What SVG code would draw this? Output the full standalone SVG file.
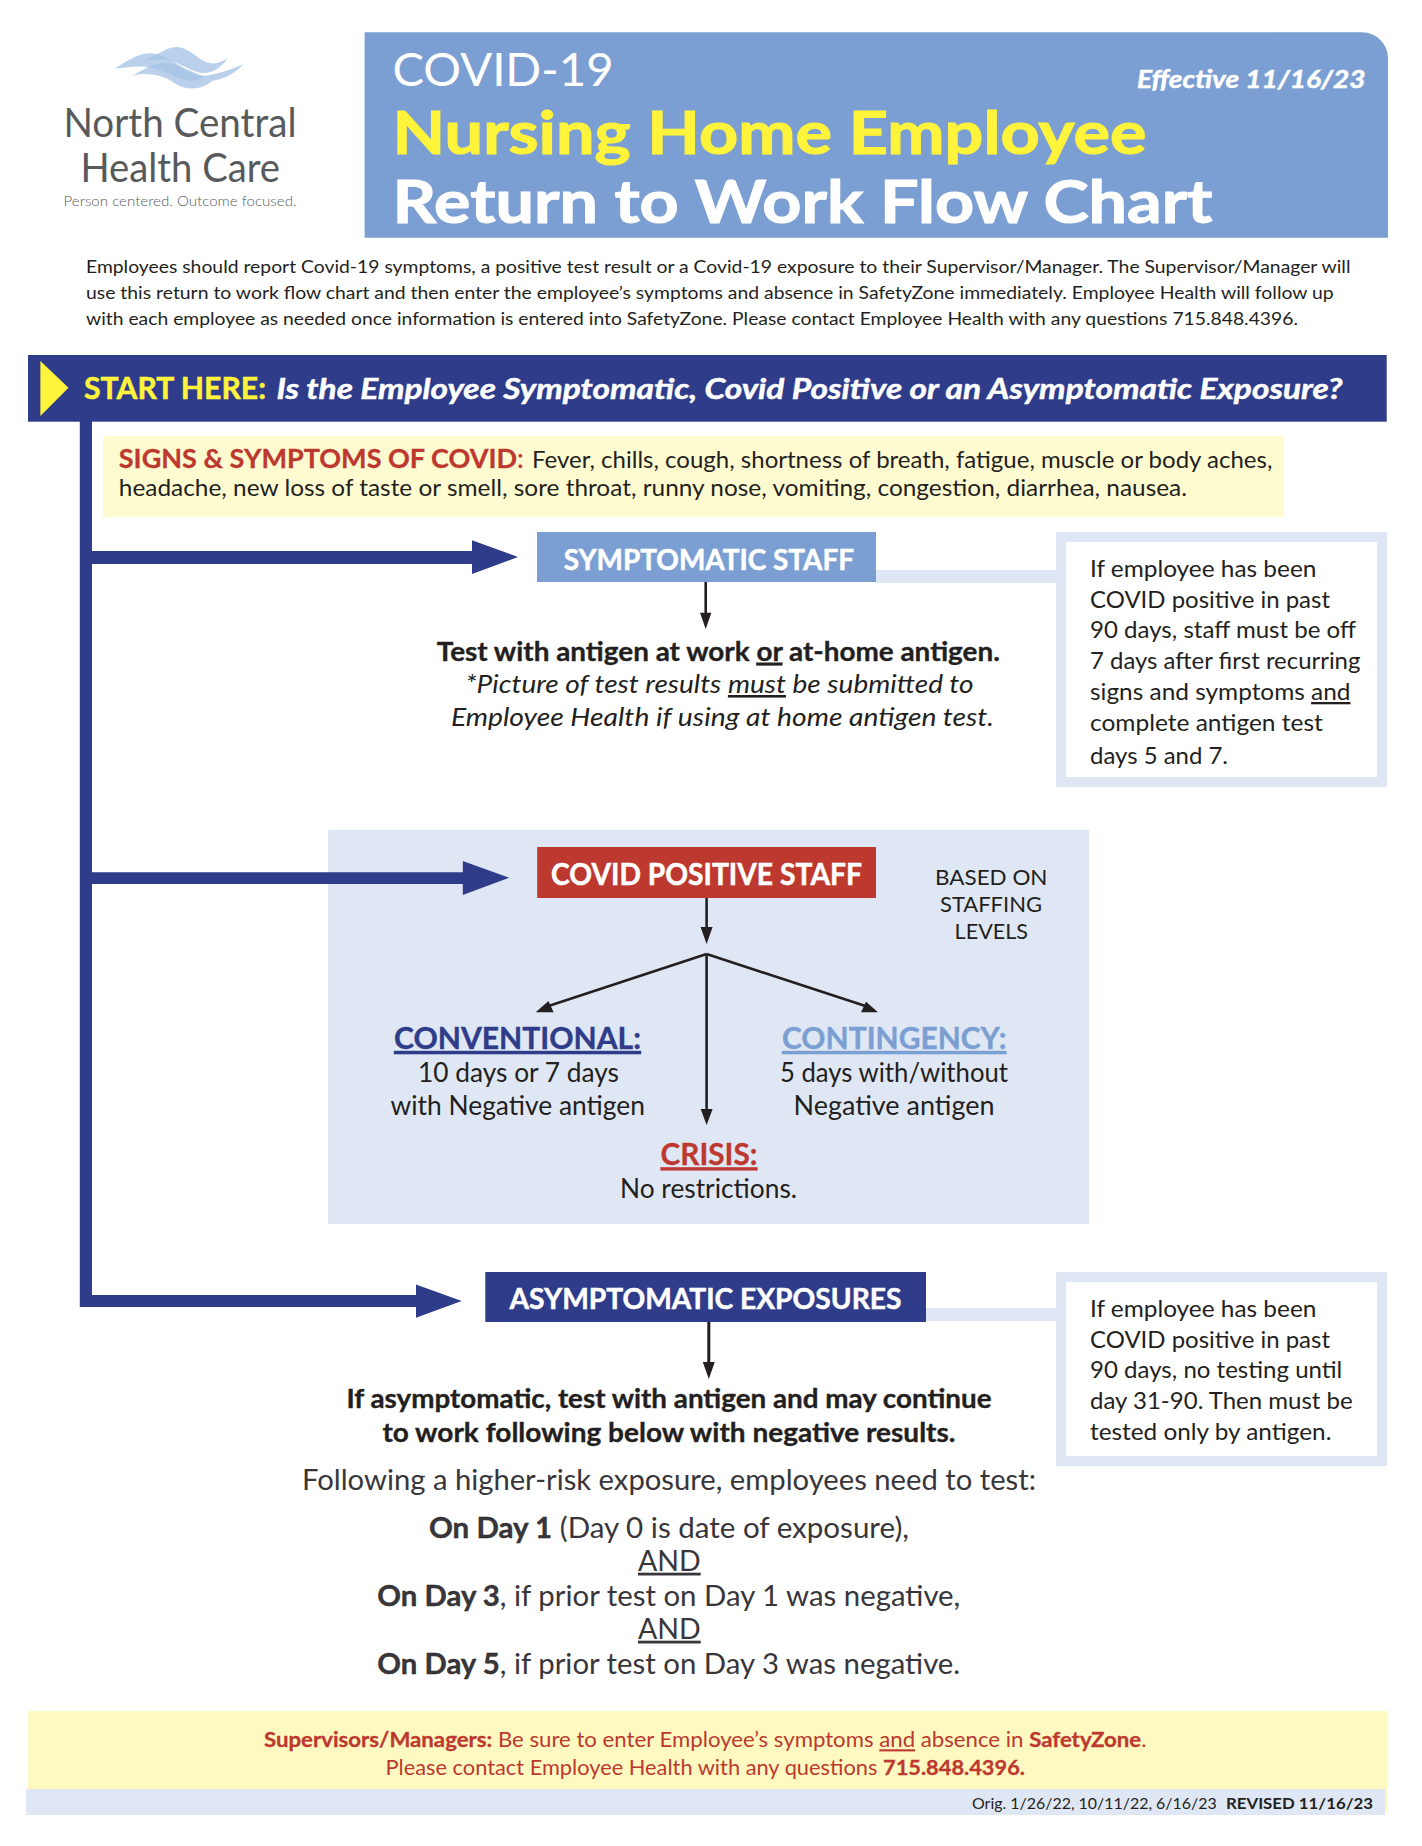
<svg xmlns="http://www.w3.org/2000/svg" width="1422" height="1846" viewBox="0 0 1422 1846">
<style>
text{font-family:"Lato","Noto Sans","Liberation Sans",sans-serif;fill:#231f20;font-size:23px}
.b{font-weight:700}
.i{font-style:italic}
.w{fill:#fff}
.y{fill:#fff33b}
.r{fill:#bd382f}
.u{text-decoration:underline}
.t{font-size:26px}
.l{font-size:28px}
.lt{fill:#38363a}
.lg{fill:#58595b}
.navy{fill:#2e3c8a}
.red{fill:#bd382f}
.sky{fill:#7b9fd2}
.pale{fill:#e0e7f4}
.w.b{stroke:#fff;stroke-width:.5}
.y.b{stroke:#fff33b;stroke-width:.5}
.hv.w.b{stroke-width:1.1}
.hv.y.b{stroke-width:1.1}
.t.b,.l .b,text>.b{stroke:#231f20;stroke-width:.35}
.r .b,.r.b{stroke:#bd382f;stroke-width:.3}
.navy.b{stroke:#2e3c8a;stroke-width:.4}
.sky.b{stroke:#7b9fd2;stroke-width:.4}
.wave{fill:#a4c1e4;fill-opacity:.75}
.th{stroke:#231f20;stroke-width:2.6;fill:none}
.hd{fill:#231f20}
.nar{font-family:"Liberation Sans Narrow","Lato",sans-serif;font-size:40px}
</style>
<rect width="1422" height="1846" fill="#fff"/>
<g id="logo">
<g transform="translate(105 40) scale(.3333)">
<path class="wave" d="M30,85C70,62 100,38 140,40C178,44 210,72 250,90C270,98 290,108 300,108C270,130 230,122 200,106C172,92 150,84 120,80C90,77 60,83 30,85Z"/>
<path class="wave" d="M120,62C150,50 190,15 225,22C262,30 280,65 320,70C340,72 358,62 368,55C345,88 315,104 285,98C250,90 225,70 190,60C165,54 140,60 120,62Z"/>
<path class="wave" d="M80,108C110,92 150,62 195,70C240,80 260,116 310,106C350,98 390,85 415,72C390,102 355,118 322,122C290,152 235,152 205,127C175,105 120,95 80,108Z"/>
</g>
<text class="lg nar" x="63.5" y="136.7" style="font-size:40px" textLength="233" lengthAdjust="spacingAndGlyphs">North Central</text>
<text class="lg nar" x="80.5" y="181.7" style="font-size:40px" textLength="199.5" lengthAdjust="spacingAndGlyphs">Health Care</text>
<text class="lg" x="63.5" y="205.7" style="font-size:14.5px;font-weight:300" textLength="233" lengthAdjust="spacingAndGlyphs">Person centered. Outcome focused.</text>
</g>
<g id="title">
<path class="sky" d="M364.6 32.3H1362a26 26 0 0 1 26 26V237.7H364.6Z"/>
<text class="w" x="392.5" y="86" style="font-size:47px" textLength="221" lengthAdjust="spacingAndGlyphs">COVID-19</text>
<text class="w b i" x="1137" y="87.7" style="font-size:24.5px" textLength="228.4" lengthAdjust="spacingAndGlyphs">Effective 11/16/23</text>
<text class="y b hv" x="392.5" y="154.3" style="font-size:60px" textLength="754" lengthAdjust="spacingAndGlyphs">Nursing Home Employee</text>
<text class="w b hv" x="392.5" y="222.7" style="font-size:60px" textLength="820" lengthAdjust="spacingAndGlyphs">Return to Work Flow Chart</text>
</g>
<g id="intro">
<text x="86" y="273.3" style="font-size:17.5px" textLength="1264.5" lengthAdjust="spacingAndGlyphs">Employees should report Covid-19 symptoms, a positive test result or a Covid-19 exposure to their Supervisor/Manager. The Supervisor/Manager will</text>
<text x="86" y="299.3" style="font-size:17.5px" textLength="1247.7" lengthAdjust="spacingAndGlyphs">use this return to work flow chart and then enter the employee’s symptoms and absence in SafetyZone immediately. Employee Health will follow up</text>
<text x="86" y="325.3" style="font-size:17.5px" textLength="1212" lengthAdjust="spacingAndGlyphs">with each employee as needed once information is entered into SafetyZone. Please contact Employee Health with any questions 715.848.4396.</text>
</g>
<g id="covid-panel"><rect class="pale" x="328" y="830" width="761" height="394"/></g>
<g id="connectors">
<path class="navy" d="M79.8 421H92V551H472V540.3L518 557L472 574V564H92V872.3H462.8V861L509.2 877.7L462.8 895V884H92V1294.9H416V1284.5L461.7 1301L416 1317.7V1306.9H79.8Z"/>
<rect class="pale" x="876" y="570" width="180" height="13"/>
<rect class="pale" x="926" y="1308" width="130" height="13"/>
<path class="th" d="M705.7 582V614"/><path class="hd" d="M705.7 629L700 612.7H711.4Z"/>
<path class="th" d="M706.6 898V930"/><path class="hd" d="M706.6 944L700.6 927H712.6Z"/>
<path class="th" d="M706.6 954V1112"/><path class="hd" d="M706.6 1125L700.6 1109H712.6Z"/>
<path class="th" d="M706.6 954L544 1007.5"/><path class="hd" d="M535.7 1012.3H553.6L548.5 1001Z"/>
<path class="th" d="M706.6 954L870 1007.5"/><path class="hd" d="M878 1012.3H861L866 1001.7Z"/>
<path class="th" d="M708.8 1322V1366" style="stroke-width:3"/><path class="hd" d="M708.8 1379L702.8 1362H714.8Z"/>
</g>
<g id="start">
<rect class="navy" x="28" y="355" width="1358.7" height="66.7"/>
<path class="y" d="M40.4 361L68.5 387.7L40.4 416Z"/>
<text class="y b" x="84" y="399" style="font-size:30px" textLength="182" lengthAdjust="spacingAndGlyphs">START HERE:</text>
<text class="w b i" x="276.5" y="399" style="font-size:29px" textLength="1066" lengthAdjust="spacingAndGlyphs">Is the Employee Symptomatic, Covid Positive or an Asymptomatic Exposure?</text>
</g>
<g id="signs">
<rect x="103" y="436" width="1181" height="81" fill="#fffbd1"/>
<text class="r b" x="118.8" y="468.3" style="font-size:26px" textLength="405" lengthAdjust="spacingAndGlyphs">SIGNS &amp; SYMPTOMS OF COVID<tspan font-weight="400">:</tspan></text>
<text x="532" y="467.7" style="font-size:24px" textLength="740.4" lengthAdjust="spacingAndGlyphs">Fever, chills, cough, shortness of breath, fatigue, muscle or body aches,</text>
<text x="118.8" y="496" style="font-size:24px" textLength="1068.2" lengthAdjust="spacingAndGlyphs">headache, new loss of taste or smell, sore throat, runny nose, vomiting, congestion, diarrhea, nausea.</text>
</g>
<g id="symptomatic">
<rect class="sky" x="537" y="532" width="339" height="50"/>
<text class="w b" x="563.7" y="569.5" style="font-size:28.5px" textLength="290.3" lengthAdjust="spacingAndGlyphs">SYMPTOMATIC STAFF</text>
</g>
<g id="symptomatic-text">
<text class="t b" x="436.8" y="660.8" textLength="563" lengthAdjust="spacingAndGlyphs">Test with antigen at work <tspan class="u">or</tspan> at-home antigen.</text>
<text class="t i" x="465.5" y="693" textLength="508" lengthAdjust="spacingAndGlyphs">*Picture of test results <tspan class="u">must</tspan> be submitted to</text>
<text class="t i" x="451" y="725.7" textLength="543" lengthAdjust="spacingAndGlyphs">Employee Health if using at home antigen test.</text>
</g>
<g id="note1">
<rect x="1061" y="537" width="321" height="245" fill="#fff" stroke="#e0e7f4" stroke-width="10"/>
<text x="1090" y="576.7" textLength="226.4" lengthAdjust="spacingAndGlyphs">If employee has been</text>
<text x="1090" y="608.3" textLength="240" lengthAdjust="spacingAndGlyphs">COVID positive in past</text>
<text x="1090" y="638.3" textLength="266" lengthAdjust="spacingAndGlyphs">90 days, staff must be off</text>
<text x="1090" y="669.3" textLength="270.4" lengthAdjust="spacingAndGlyphs">7 days after first recurring</text>
<text x="1090" y="700" textLength="260.5" lengthAdjust="spacingAndGlyphs">signs and symptoms <tspan class="u">and</tspan></text>
<text x="1090" y="730.7" textLength="232.8" lengthAdjust="spacingAndGlyphs">complete antigen test</text>
<text x="1090" y="764" textLength="138" lengthAdjust="spacingAndGlyphs">days 5 and 7.</text>
</g>
<g id="covid-positive">
<rect class="red" x="537.2" y="847" width="338.8" height="51"/>
<text class="w b" x="551" y="885" style="font-size:30px" textLength="311" lengthAdjust="spacingAndGlyphs">COVID POSITIVE STAFF</text>
</g>
<g id="staffing">
<text x="935" y="885" style="font-size:22px" textLength="112.5" lengthAdjust="spacingAndGlyphs">BASED ON</text>
<text x="940" y="911.7" style="font-size:22px" textLength="102" lengthAdjust="spacingAndGlyphs">STAFFING</text>
<text x="954.6" y="938.7" style="font-size:22px" textLength="73.4" lengthAdjust="spacingAndGlyphs">LEVELS</text>
</g>
<g id="conventional">
<text class="navy b u" x="394" y="1049" style="font-size:30.5px" textLength="247" lengthAdjust="spacingAndGlyphs">CONVENTIONAL:</text>
<text x="418" y="1081.5" style="font-size:26px" textLength="201" lengthAdjust="spacingAndGlyphs">10 days or 7 days</text>
<text x="390.5" y="1115" style="font-size:26px" textLength="254.5" lengthAdjust="spacingAndGlyphs">with Negative antigen</text>
</g>
<g id="contingency">
<text class="sky b u" x="782" y="1049" style="font-size:30.5px" textLength="224.5" lengthAdjust="spacingAndGlyphs">CONTINGENCY:</text>
<text x="780" y="1081.5" style="font-size:26px" textLength="228" lengthAdjust="spacingAndGlyphs">5 days with/without</text>
<text x="793.5" y="1115" style="font-size:26px" textLength="201" lengthAdjust="spacingAndGlyphs">Negative antigen</text>
</g>
<g id="crisis">
<text class="r b u" x="660.5" y="1165.3" style="font-size:30.5px" textLength="97" lengthAdjust="spacingAndGlyphs">CRISIS:</text>
<text x="620" y="1197.5" style="font-size:26px" textLength="177" lengthAdjust="spacingAndGlyphs">No restrictions.</text>
</g>
<g id="asymptomatic">
<rect class="navy" x="485.3" y="1272" width="440.7" height="50"/>
<text class="w b" x="509.4" y="1309.4" style="font-size:28.5px" textLength="392" lengthAdjust="spacingAndGlyphs">ASYMPTOMATIC EXPOSURES</text>
</g>
<g id="note2">
<rect x="1061" y="1277" width="321" height="184" fill="#fff" stroke="#e0e7f4" stroke-width="10"/>
<text x="1090" y="1317.3" textLength="226.4" lengthAdjust="spacingAndGlyphs">If employee has been</text>
<text x="1090" y="1348.2" textLength="240" lengthAdjust="spacingAndGlyphs">COVID positive in past</text>
<text x="1090" y="1378.4" textLength="252.3" lengthAdjust="spacingAndGlyphs">90 days, no testing until</text>
<text x="1090" y="1409" textLength="262.7" lengthAdjust="spacingAndGlyphs">day 31-90. Then must be</text>
<text x="1090" y="1440" textLength="241.4" lengthAdjust="spacingAndGlyphs">tested only by antigen.</text>
</g>
<g id="exposure-text">
<text class="t b" x="346.5" y="1408" textLength="645" lengthAdjust="spacingAndGlyphs">If asymptomatic, test with antigen and may continue</text>
<text class="t b" x="382.5" y="1441.7" textLength="573" lengthAdjust="spacingAndGlyphs">to work following below with negative results.</text>
<text class="l lt" x="302" y="1490.3" textLength="734" lengthAdjust="spacingAndGlyphs">Following a higher-risk exposure, employees need to test:</text>
<text class="l lt" x="429" y="1538" textLength="480" lengthAdjust="spacingAndGlyphs"><tspan class="b">On Day 1</tspan> (Day 0 is date of exposure),</text>
<text class="l u lt" x="638" y="1570.7" textLength="62.7" lengthAdjust="spacingAndGlyphs">AND</text>
<text class="l lt" x="377.3" y="1606" textLength="583" lengthAdjust="spacingAndGlyphs"><tspan class="b">On Day 3</tspan>, if prior test on Day 1 was negative,</text>
<text class="l u lt" x="638" y="1638.7" textLength="62.7" lengthAdjust="spacingAndGlyphs">AND</text>
<text class="l lt" x="377.3" y="1674" textLength="583" lengthAdjust="spacingAndGlyphs"><tspan class="b">On Day 5</tspan>, if prior test on Day 3 was negative.</text>
</g>
<g id="footer">
<rect x="28" y="1711" width="1359.6" height="101" fill="#fdf9c0"/>
<rect class="pale" x="25.9" y="1789" width="1359.1" height="26"/>
<text class="r" x="264" y="1747.3" style="font-size:21px" textLength="882.4" lengthAdjust="spacingAndGlyphs"><tspan class="b">Supervisors/Managers:</tspan> Be sure to enter Employee’s symptoms <tspan class="u">and</tspan> absence in <tspan class="b">SafetyZone</tspan>.</text>
<text class="r" x="385.5" y="1775.4" style="font-size:21px" textLength="639.5" lengthAdjust="spacingAndGlyphs">Please contact Employee Health with any questions <tspan class="b">715.848.4396.</tspan></text>
<text x="972" y="1808.5" style="font-size:15.5px" textLength="244.7" lengthAdjust="spacingAndGlyphs">Orig. 1/26/22, 10/11/22, 6/16/23</text>
<text class="b" x="1226" y="1808.5" style="font-size:15.5px" textLength="147" lengthAdjust="spacingAndGlyphs">REVISED 11/16/23</text>
</g>
</svg>
